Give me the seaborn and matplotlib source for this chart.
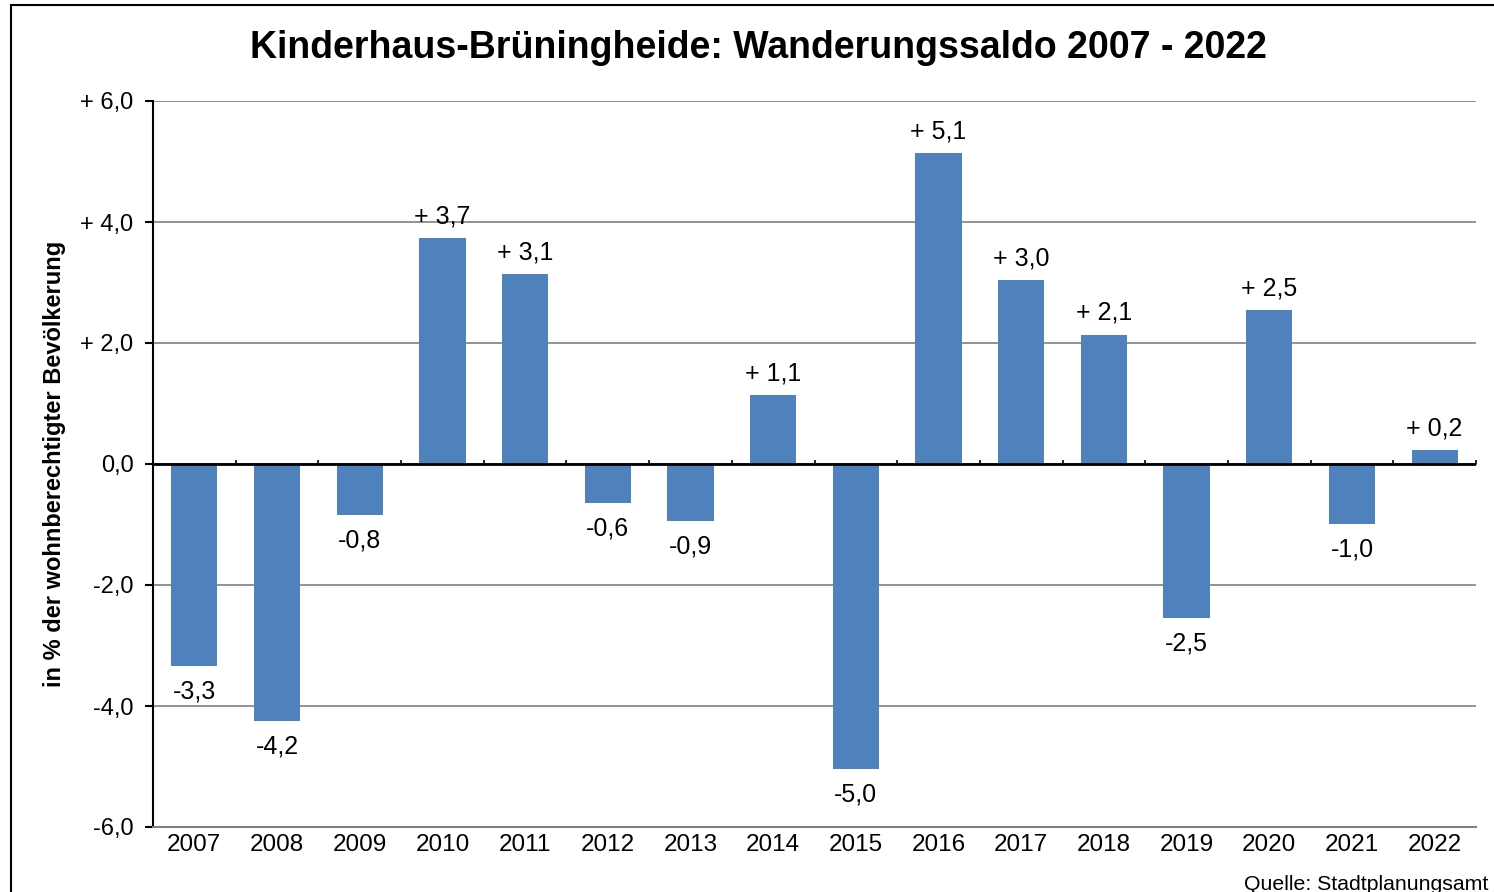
import matplotlib
matplotlib.use("Agg")
import matplotlib.pyplot as plt
import seaborn as sns
import pandas as pd
from matplotlib.patches import Rectangle

years = ["2007", "2008", "2009", "2010", "2011", "2012", "2013", "2014",
         "2015", "2016", "2017", "2018", "2019", "2020", "2021", "2022"]
values = [-3.34, -4.24, -0.84, 3.74, 3.14, -0.64, -0.94, 1.14,
          -5.04, 5.14, 3.04, 2.14, -2.54, 2.54, -0.99, 0.23]
yticks = [-6, -4, -2, 0, 2, 4, 6]

title = "Kinderhaus-Brüningheide: Wanderungssaldo 2007 - 2022"
ylabel = "in % der wohnberechtigter Bevölkerung"
source = "Quelle: Stadtplanungsamt"

sns.set_theme(style="white")
plt.rcParams['font.family'] = ['Liberation Sans', 'DejaVu Sans']
plt.rcParams['text.color'] = 'black'
plt.rcParams['axes.labelcolor'] = 'black'
plt.rcParams['xtick.color'] = 'black'
plt.rcParams['ytick.color'] = 'black'

def fmt(v):
    s = f"{abs(v):.1f}".replace(".", ",")
    if round(v, 1) > 0:
        return "+ " + s
    if round(v, 1) < 0:
        return "-" + s
    return s

df = pd.DataFrame({"Jahr": years, "Wert": values})

fig = plt.figure(figsize=(14.94, 8.92), dpi=100)
ax = fig.add_axes([153/1494, 1-827/892, (1476-153)/1494, (827-101)/892])

sns.barplot(data=df, x="Jahr", y="Wert", color="#4F81BD", width=0.56,
            saturation=1, ax=ax, edgecolor="none")

ax.set_ylim(-6, 6)
ax.set_xlim(-0.5, len(years) - 0.5)
ax.set_yticks(yticks)
ax.set_yticklabels([fmt(t) for t in yticks], fontsize=17)
ax.tick_params(axis="y", direction="out", length=6, width=1.5, color="black",
               pad=8, left=True)
ax.tick_params(axis="x", length=0, pad=5, labelsize=17.5)
ax.set_xlabel("")
ax.set_ylabel(ylabel, fontsize=17, fontweight="bold", labelpad=10)

ax.yaxis.grid(True, color="#808080", linewidth=1.2)
ax.set_axisbelow(True)
for s in ["top", "right"]:
    ax.spines[s].set_visible(False)
ax.spines["left"].set_color("black")
ax.spines["left"].set_linewidth(1.5)
ax.spines["bottom"].set_color("#808080")
ax.spines["bottom"].set_linewidth(1.5)

ax.axhline(0, color="black", linewidth=2, zorder=3)
sec = ax.secondary_xaxis(0.5)
sec.set_xticks([i + 0.5 for i in range(len(years) - 1)] + [len(years) - 0.5])
sec.set_xticklabels([])
sec.tick_params(direction="out", length=3, width=1.2, color="black")
sec.spines["bottom"].set_visible(False)

for i, v in enumerate(values):
    if v >= 0:
        ax.annotate(fmt(v), (i, v), xytext=(0, 7), textcoords="offset points",
                    ha="center", va="bottom", fontsize=18)
    else:
        ax.annotate(fmt(v), (i, v), xytext=(0, -10), textcoords="offset points",
                    ha="center", va="top", fontsize=18)

fig.text(758/1494, 1-48/892, title, ha="center", va="center",
         fontsize=27, fontweight="bold")
fig.text(1488/1494, 1-884/892, source, ha="right", va="center", fontsize=15.3)

fig.patches.append(Rectangle((11/1494, -0.05), 1.2, 1-5/892 + 0.05,
                             transform=fig.transFigure, fill=False,
                             edgecolor="black", linewidth=1.5, figure=fig))

fig.savefig("out.png", dpi=100)
